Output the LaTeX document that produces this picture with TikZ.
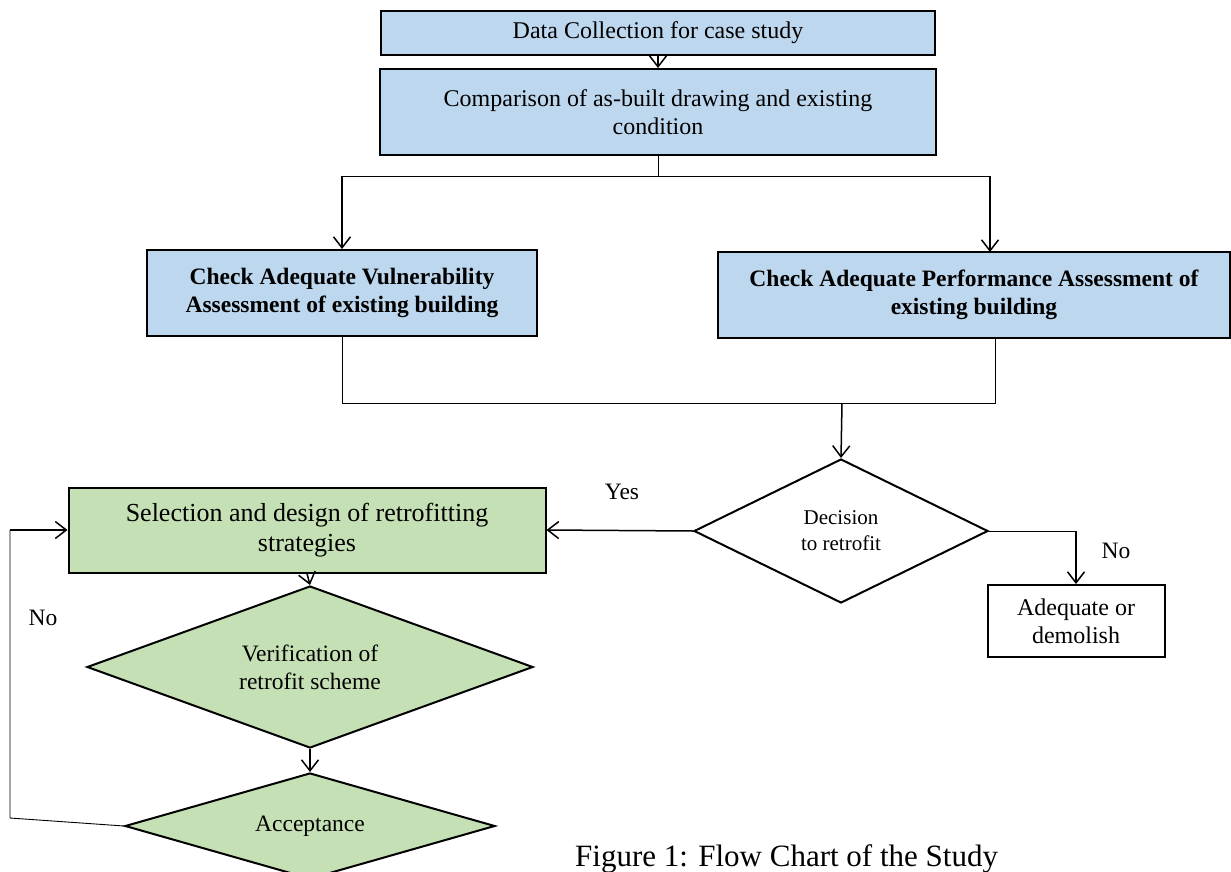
\documentclass[tikz,border=0pt]{standalone}
\usepackage{fontspec}
\setmainfont{Liberation Serif}
\usepackage{xcolor}
\usetikzlibrary{arrows.meta,positioning,shapes.geometric}

\definecolor{boxblue}{HTML}{BDD7EE}
\definecolor{boxgreen}{HTML}{C5E0B4}

\begin{document}
\begin{tikzpicture}[x=1pt, y=-1pt, box/.style={draw, line width=2pt, align=center, inner sep=0pt, font=\fontsize{24}{28}\selectfont}, bluebox/.style={box, fill=boxblue}, greenbox/.style={box, fill=boxgreen}, bold/.style={font=\fontsize{23.5}{28}\selectfont\bfseries}, decide/.style={draw, diamond, line width=2pt, align=center, inner sep=0pt, font=\fontsize{23.5}{28}\selectfont}, arr/.style={-{Straight Barb[length=11pt,width=17pt]}, line width=1.5pt}, link/.style={line width=0.9pt}, lbl/.style={font=\fontsize{23.5}{28}\selectfont}]
\useasboundingbox (0,0) rectangle (1231,872);
% top boxes
\node[bluebox, minimum width=554pt, minimum height=44pt] (data) at (658,33) {Data Collection for case study};
\node[bluebox, minimum width=556pt, minimum height=86pt] (compare) at (658,112) {Comparison of as-built drawing and existing\\condition};
\node[bluebox, bold, minimum width=390pt, minimum height=86pt] (vuln) at (342,293) {Check Adequate Vulnerability\\Assessment of existing building};
\node[bluebox, bold, minimum width=512pt, minimum height=86pt] (perf) at (974,295) {Check Adequate Performance Assessment of\\existing building};
% decision part
\node[decide, fill=white, aspect=2.04, minimum width=294pt, minimum height=144pt, font=\fontsize{21}{26}\selectfont] (retro) at (841,531) {Decision\\to retrofit};
\node[greenbox, minimum width=477pt, minimum height=85pt, font=\fontsize{26}{30}\selectfont] (select) at (307,530) {Selection and design of retrofitting\\strategies};
\node[box, fill=white, minimum width=177pt, minimum height=72pt] (adequate) at (1076,621) {Adequate or\\demolish};
\node[decide, fill=boxgreen, aspect=2.75, minimum width=446pt, minimum height=162pt] (verify) at (310,667) {Verification of\\retrofit scheme};
\node[decide, fill=boxgreen, aspect=3.4, minimum width=370pt, minimum height=106pt] (accept) at (310,826) {Acceptance};
\node[lbl] (yes) at (622,492) {Yes};
\node[lbl] (no1) at (1116,551) {No};
\node[lbl] (no2) at (43,618) {No};
\node[anchor=north west, inner sep=0pt, font=\fontsize{31}{34}\selectfont] (caption) at (575,844) {Figure 1: Flow Chart of the Study};
\coordinate (split) at (658,176);
\coordinate (join) at (842,403);
\coordinate (loop) at (10,818);
% connectors
\draw[arr] (data) -- (compare);
\draw[link] (compare.south) -- (split);
\draw[link] (vuln.north |- split) -- (split -| 990,0);
\draw[arr] (vuln.north |- split) -- (vuln.north);
\draw[arr] (990,176) -- (990,252);
\draw[link] (vuln.south) -- (vuln.south |- join) -- (995,403) -- (995,338);
\draw[arr] (join) -- (retro.north);
\draw[arr] (retro.west) -- (select.east);
\draw[link] (retro.east) -- (retro.east -| adequate.north);
\draw[arr] (retro.east -| adequate.north) -- (adequate.north);
\draw[arr] (select.south) -- (verify.north);
\draw[arr] (verify.south) -- (accept.north);
\draw[link] (accept.west) -- (loop) -- (loop |- select.west);
\draw[arr] (loop |- select.west) -- (select.west);
\end{tikzpicture}
\end{document}
